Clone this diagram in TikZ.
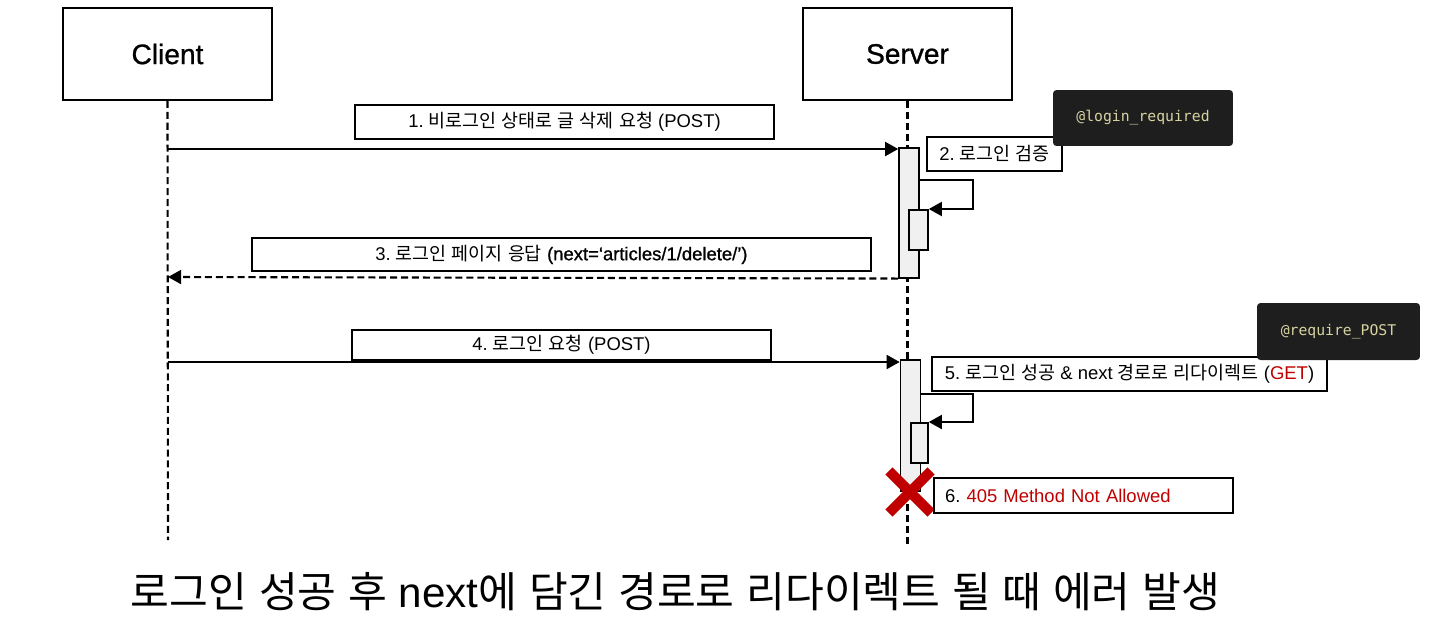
\documentclass[tikz,border=0pt]{standalone}
\usepackage{fontspec}
\setmainfont{Liberation Sans}
\newfontfamily\krfont{Noto Sans CJK KR}
\newfontfamily\actorfont[FakeBold=1]{Liberation Sans}
\newfontfamily\codefont{DejaVu Sans Mono}
\frenchspacing
% Hangul runs switch to the Korean font
\XeTeXinterchartokenstate=1
\newXeTeXintercharclass\hangulclass
\count255="AC00
\loop
  \XeTeXcharclass\count255=\hangulclass
  \ifnum\count255<"D7A3 \advance\count255 by 1
\repeat
\XeTeXinterchartoks 0 \hangulclass = {\begingroup\krfont}
\XeTeXinterchartoks 4095 \hangulclass = {\begingroup\krfont}
\XeTeXinterchartoks \hangulclass 0 = {\endgroup}
\XeTeXinterchartoks \hangulclass 4095 = {\endgroup}
\usepackage{xcolor}
\usepackage{tikz}
\usetikzlibrary{shapes.misc, arrows.meta, positioning, calc}
\definecolor{errred}{HTML}{C00000}
\definecolor{badgebg}{HTML}{1E1E1E}
\definecolor{badgetext}{HTML}{D7D3A0}
\definecolor{barfill}{HTML}{F0F0F0}

\begin{document}
\begin{tikzpicture}[
    x=0.02cm, y=-0.02cm,
    actor/.style={draw, line width=1.1pt, minimum width=4.18cm, minimum height=1.84cm, font=\actorfont\fontsize{16}{18}\selectfont},
    lifeline/.style={line width=1.2pt, dash pattern=on 4pt off 2.2pt},
    msg/.style={draw, line width=0.7pt, fill=white, minimum height=0.68cm, inner sep=0pt, font=\fontsize{10.5}{12}\selectfont},
    actbar/.style={draw, line width=0.9pt, fill=barfill, minimum width=0.4cm, inner sep=0pt, anchor=north},
    badge/.style={fill=badgebg, rounded corners=2pt, text=badgetext, inner sep=0pt, font=\codefont\fontsize{8.4}{10}\selectfont},
    arrow/.style={-{Triangle[length=7.5pt, width=8pt]}, line width=1.2pt}
]
    \useasboundingbox (0,0) rectangle (1431,616);

    % Actors
    \node[actor] (client) at (167.5,54) {Client};
    \node[actor] (server) at (907.5,54) {Server};
    \coordinate (clientend) at (168,540);
    \coordinate (serverend) at (907.5,545);
    \draw[lifeline] (client.south) -- (clientend);
    \draw[lifeline] (server.south) -- (serverend);

    % Step 1
    \node[msg, minimum width=8.38cm] (m1) at (564.5,122) {1. 비로그인 상태로 글 삭제 요청 (POST)};
    \node[actbar, minimum height=2.6cm] (bar1) at (909,147) {};
    \coordinate (c1) at (168,149);
    \draw[arrow] (c1) -- (c1 -| bar1.west);

    % Step 2
    \node[msg, minimum width=2.7cm] (m2) at (994.5,154) {2. 로그인 검증};
    \node[badge, minimum width=3.6cm, minimum height=1.12cm] (loginreq) at (1143,118) {@login\_required};
    \node[actbar, minimum width=0.38cm, minimum height=0.8cm] (inner1) at (918.5,209) {};
    \draw[arrow] ([yshift=-0.66cm]bar1.north east) -- ++(53,0) |- (inner1.north east);

    % Step 3
    \node[msg, minimum width=12.38cm, minimum height=0.66cm] (m3) at (561.5,254.5) {3. 로그인 페이지 응답 {\actorfont(next=‘articles/1/delete/’)}};
    \coordinate (c3) at (168,277);
    \draw[arrow, dash pattern=on 4pt off 2.2pt] (bar1.south west) -- (c3);

    % Step 4
    \node[msg, minimum width=8.38cm, minimum height=0.6cm] (m4) at (561.5,345) {4. 로그인 요청 (POST)};
    \node[actbar, minimum height=2.62cm] (bar2) at (910.5,359) {};
    \coordinate (c4) at (168,362);
    \draw[arrow] (c4) -- (c4 -| bar2.west);

    % Step 5
    \node[msg, minimum width=7.9cm] (m5) at (1129.5,374) {5. 로그인 성공 \& next 경로로 리다이렉트 (\textcolor{errred}{GET})};
    \node[badge, minimum width=3.26cm, minimum height=1.14cm] (requirepost) at (1338.5,331.5) {@require\_POST};
    \node[actbar, minimum width=0.34cm, minimum height=0.8cm] (inner2) at (919.5,422) {};
    \draw[arrow] ([yshift=-0.7cm]bar2.north east) -- ++(52,0) |- (inner2.north east);

    % Step 6
    \node[cross out, draw=errred, line width=5.8pt, minimum size=0.64cm] (stop) at (910,492) {};
    \node[msg, minimum height=0.7cm, inner xsep=0.22cm, text width=5.54cm, align=left] (m6) at (1083.5,495.5) {6. \textcolor{errred}{405 Method Not Allowed}};

    % Caption
    \node[font=\fontsize{24}{28}\selectfont] (caption) at (675.5,592) {로그인 성공 후 next에 담긴 경로로 리다이렉트 될 때 에러 발생};
\end{tikzpicture}
\end{document}
